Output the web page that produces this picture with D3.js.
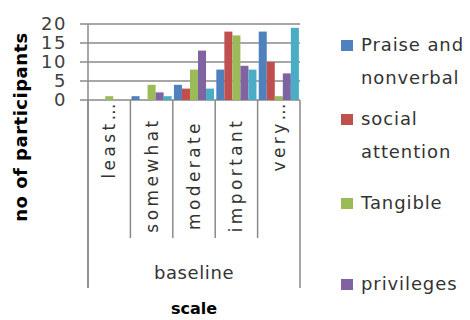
<!DOCTYPE html>
<html>
<head>
<meta charset="utf-8">
<script src="https://cdn.jsdelivr.net/npm/d3@7"></script>
<style>
  html, body { margin: 0; padding: 0; background: #fff; }
  svg { display: block; }
  text { font-family: "DejaVu Sans", sans-serif; }
</style>
</head>
<body>
<svg id="chart" width="470" height="320"></svg>
<script>
// ---- data ----
const categories = ["least\u2026", "somewhat", "moderate", "important", "very\u2026"];
const groupLabel = "baseline";
const seriesNames = ["Praise and nonverbal", "social attention", "Tangible", "privileges", "Series 5"];
const praise    = [0, 1, 4, 8, 18];
const social    = [0, 0, 3, 18, 10];
const tangible  = [1, 4, 8, 17, 1];
const privileges= [0, 2, 13, 9, 7];
const series5   = [0, 1, 3, 8, 19];
const yTicks = [0, 5, 10, 15, 20];
const xTitle = "scale";
const yTitle = "no of participants";

// ---- styles ----
const colors = ["#4F81BD", "#C0504D", "#9BBB59", "#8064A2", "#4BACC6"];
const lineColor = "#8a8a8a";
const textColor = "#333333";

const allSeries = [praise, social, tangible, privileges, series5];

const svg = d3.select("#chart");
const pLeft = 88, pRight = 300, pTop = 24, pBottom = 100;

const x = d3.scaleBand().domain(categories).range([pLeft, pRight]).paddingInner(0).paddingOuter(0);
const x1 = d3.scaleBand().domain(d3.range(allSeries.length)).range([0, x.bandwidth()]).paddingOuter(0.14).paddingInner(0);
const y = d3.scaleLinear().domain([0, 20]).range([pBottom, pTop]);

// gridlines
svg.append("g")
  .selectAll("line").data(yTicks).join("line")
  .attr("x1", pLeft - 8).attr("x2", pRight)
  .attr("y1", d => y(d)).attr("y2", d => y(d))
  .attr("stroke", lineColor).attr("stroke-width", 1.5);

// y axis line
svg.append("line")
  .attr("x1", pLeft).attr("x2", pLeft).attr("y1", pTop).attr("y2", 288)
  .attr("stroke", lineColor).attr("stroke-width", 1.5);

// category dividers
const edges = categories.map(c => x(c)).concat([pRight]);
svg.append("g").selectAll("line").data(edges).join("line")
  .attr("x1", d => d).attr("x2", d => d)
  .attr("y1", pBottom)
  .attr("y2", (d, i) => (i === 0 || i === edges.length - 1) ? 288 : 238)
  .attr("stroke", lineColor).attr("stroke-width", 1.5);

// y tick labels
svg.append("g").selectAll("text").data(yTicks).join("text")
  .attr("x", 67).attr("y", d => y(d))
  .attr("dy", "0.36em")
  .attr("text-anchor", "end")
  .attr("font-size", 18)
  .attr("letter-spacing", 1.5)
  .attr("fill", "#404040")
  .text(d => d);

// bars
const bars = svg.append("g");
allSeries.forEach((vals, si) => {
  bars.selectAll(null).data(vals).join("rect")
    .attr("x", (d, i) => x(categories[i]) + x1(si))
    .attr("width", x1.bandwidth())
    .attr("y", d => y(d))
    .attr("height", d => y(0) - y(d))
    .attr("fill", colors[si]);
});

// category labels (rotated)
svg.append("g").selectAll("text").data(categories).join("text")
  .attr("transform", d => {
    const cx = x(d) + x.bandwidth() / 2;
    const truncated = d.endsWith("\u2026");
    return `translate(${cx + 6},${truncated ? 100 : 175}) rotate(-90)`;
  })
  .attr("text-anchor", d => d.endsWith("\u2026") ? "end" : "middle")
  .attr("font-size", 17)
  .attr("letter-spacing", 3.4)
  .attr("fill", textColor)
  .text(d => d);

// group label
svg.append("text")
  .attr("x", (pLeft + pRight) / 2).attr("y", 279)
  .attr("text-anchor", "middle")
  .attr("font-size", 18).attr("letter-spacing", 0.6)
  .attr("fill", textColor)
  .text(groupLabel);

// axis titles
svg.append("text")
  .attr("x", (pLeft + pRight) / 2).attr("y", 314)
  .attr("text-anchor", "middle")
  .attr("font-size", 16).attr("font-weight", "bold")
  .attr("fill", "#000")
  .text(xTitle);

svg.append("text")
  .attr("transform", `translate(27,127) rotate(-90)`)
  .attr("text-anchor", "middle")
  .attr("font-size", 18).attr("font-weight", "bold")
  .attr("letter-spacing", 0.5)
  .attr("fill", "#000")
  .text(yTitle);

// legend (reference is clipped after the 4th entry)
const legendLines = [["Praise and", "nonverbal"], ["social", "attention"], ["Tangible"], ["privileges"]];
const legendY = [45, 119, 203, 284];
const lg = svg.append("g");
legendLines.forEach((lines, i) => {
  lg.append("rect")
    .attr("x", 341).attr("y", legendY[i] - 5).attr("width", 12).attr("height", 11)
    .attr("fill", colors[i]);
  const t = lg.append("text")
    .attr("x", 361).attr("y", legendY[i])
    .attr("font-size", 18).attr("letter-spacing", 0.9)
    .attr("fill", textColor);
  lines.forEach((ln, j) => {
    t.append("tspan").attr("x", 361).attr("y", legendY[i] + j * 33).attr("dy", "0.36em").text(ln);
  });
});
</script>
</body>
</html>
